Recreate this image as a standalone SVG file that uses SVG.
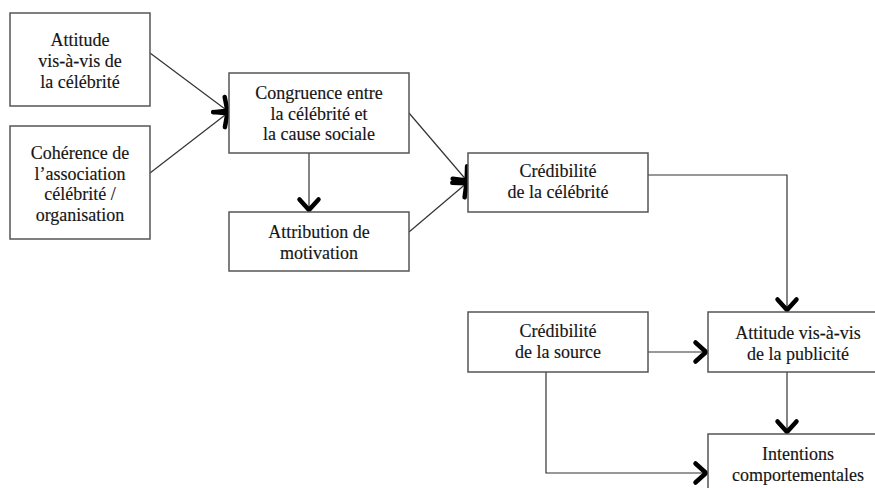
<svg xmlns="http://www.w3.org/2000/svg" width="875" height="488" viewBox="0 0 875 488">
<style>
.box{fill:#fff;stroke:#555;stroke-width:1.5}
.t{font-family:"Liberation Serif","Times New Roman",serif;font-size:18px;fill:#151515;stroke:#151515;stroke-width:0.15;text-anchor:middle}
.c{fill:none;stroke:#333;stroke-width:1.2}
</style>
<defs>
<marker id="arr" markerUnits="userSpaceOnUse" viewBox="-18 -14 22 28" refX="0" refY="0" markerWidth="22" markerHeight="28" orient="auto" overflow="visible">
<path d="M -12.5 -9.5 L -2 0 L -12.5 9.5" fill="none" stroke="#000" stroke-width="4.5" stroke-linecap="round" stroke-linejoin="round"/>
</marker>
</defs>
<rect width="875" height="488" fill="#fff"/>
<g id="connectors">
<path class="c" d="M150 53 L229 112" marker-end="url(#arr)"/>
<path class="c" d="M150 173 L229 112" marker-end="url(#arr)"/>
<path class="c" d="M309 153 L309 212" marker-end="url(#arr)"/>
<path class="c" d="M409 113 L468 182" marker-end="url(#arr)"/>
<path class="c" d="M409 232 L468 182" marker-end="url(#arr)"/>
<path class="c" d="M648 175 L787 175 L787 312" marker-end="url(#arr)"/>
<path class="c" d="M648 352 L708 352" marker-end="url(#arr)"/>
<path class="c" d="M787 372 L787 434" marker-end="url(#arr)"/>
<path class="c" d="M546 372 L546 473 L708 473" marker-end="url(#arr)"/>
</g>
<g id="n1">
<rect class="box" x="10" y="13" width="140" height="93"/>
<text class="t" x="80" y="46">Attitude</text>
<text class="t" x="80" y="67">vis-à-vis de</text>
<text class="t" x="80" y="88">la célébrité</text>
</g>
<g id="n2">
<rect class="box" x="10" y="126" width="140" height="113"/>
<text class="t" x="80" y="159">Cohérence de</text>
<text class="t" x="80" y="180">l’association</text>
<text class="t" x="80" y="200">célébrité /</text>
<text class="t" x="80" y="221">organisation</text>
</g>
<g id="n3">
<rect class="box" x="229" y="73" width="180" height="80"/>
<text class="t" x="319" y="99">Congruence entre</text>
<text class="t" x="319" y="120">la célébrité et</text>
<text class="t" x="319" y="140">la cause sociale</text>
</g>
<g id="n4">
<rect class="box" x="229" y="212" width="180" height="59"/>
<text class="t" x="319" y="238">Attribution de</text>
<text class="t" x="319" y="259">motivation</text>
</g>
<g id="n5">
<rect class="box" x="468" y="153" width="180" height="59"/>
<text class="t" x="558" y="177">Crédibilité</text>
<text class="t" x="558" y="198">de la célébrité</text>
</g>
<g id="n6">
<rect class="box" x="468" y="312" width="180" height="60"/>
<text class="t" x="558" y="337">Crédibilité</text>
<text class="t" x="558" y="358">de la source</text>
</g>
<g id="n7">
<rect class="box" x="708" y="312" width="180" height="60"/>
<text class="t" x="798" y="339">Attitude vis-à-vis</text>
<text class="t" x="798" y="360">de la publicité</text>
</g>
<g id="n8">
<rect class="box" x="708" y="434" width="180" height="70"/>
<text class="t" x="798" y="460">Intentions</text>
<text class="t" x="798" y="481">comportementales</text>
</g>
</svg>
